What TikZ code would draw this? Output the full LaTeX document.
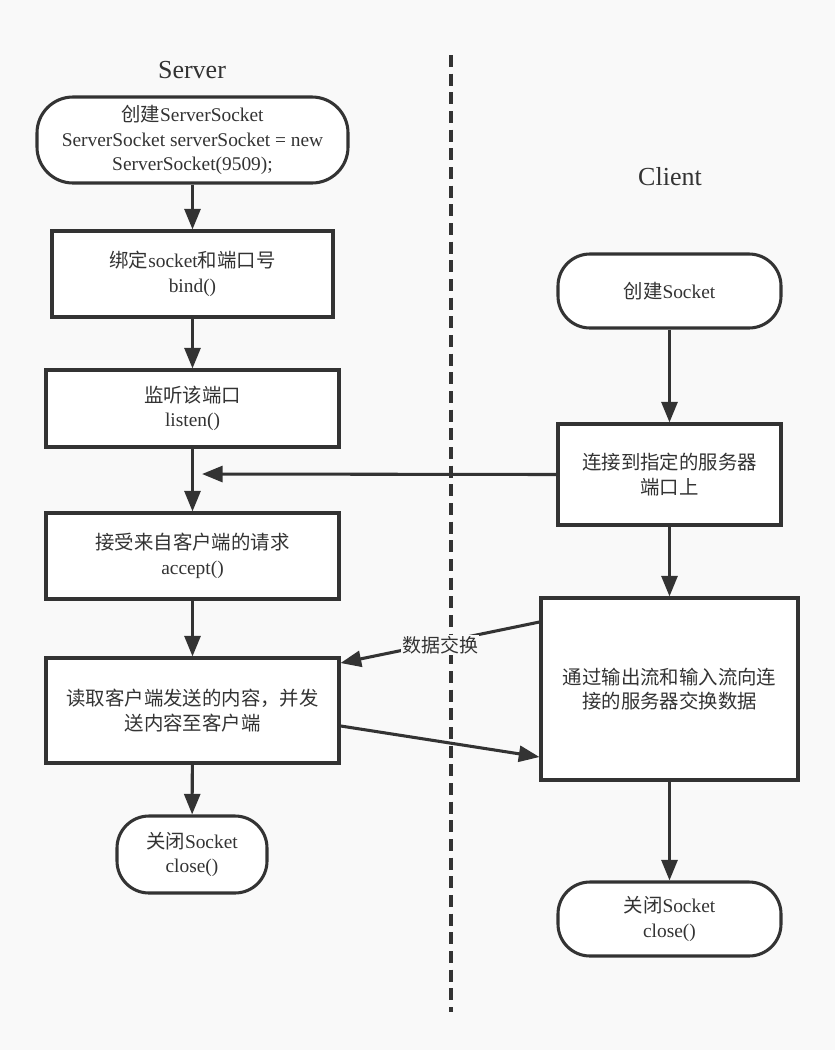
\documentclass[tikz,border=0pt]{standalone}
\usepackage{fontspec}
\setmainfont{Liberation Serif}
\newfontfamily\cjk{Noto Sans CJK SC}
\usetikzlibrary{arrows.meta,calc}
\definecolor{ink}{HTML}{333333}
\definecolor{bg}{HTML}{F9F9F9}
\tikzset{
  box/.style={draw=ink, line width=2.3pt, fill=white, text=ink, align=center, inner sep=0pt,
    font=\fontsize{14.55pt}{18.4pt}\selectfont},
  pill/.style={box, rounded corners=24pt},
  conn/.style={draw=ink, line width=2.3pt, -{Triangle[length=15.5pt,width=12pt]}},
  title/.style={text=ink, font=\fontsize{19.5pt}{23pt}\selectfont},
}
\begin{document}
\begin{tikzpicture}[x=0.75pt,y=-0.75pt]
\fill[bg] (0,0) rectangle (835,1050);
\useasboundingbox (0,0) rectangle (835,1050);
\draw[ink, line width=2.4pt, dash pattern=on 9pt off 5pt] (451,55) -- (451,1012);
\node[title] (ts) at (192,70) {Server};
\node[title] (tc) at (670,177) {Client};
% server
\node[pill, minimum width=233.25pt, minimum height=64.5pt, rounded corners=27pt] (A) at (192.5,140)
  {{\cjk 创建}ServerSocket\\ServerSocket serverSocket = new\\ServerSocket(9509);};
\node[box, minimum width=210.75pt, minimum height=64.5pt] (B) at (192.5,274)
  {{\cjk 绑定}socket{\cjk 和端口号}\\bind()};
\node[box, minimum width=219.75pt, minimum height=57.75pt] (C) at (192.5,408.5)
  {{\cjk 监听该端口}\\listen()};
\node[box, minimum width=219.75pt, minimum height=64.5pt] (D) at (192.5,556)
  {{\cjk 接受来自客户端的请求}\\accept()};
\node[box, minimum width=219.75pt, minimum height=78.75pt] (E) at (192.5,710.5)
  {\cjk 读取客户端发送的内容，并发\\\cjk 送内容至客户端};
\node[pill, minimum width=112.5pt, minimum height=57.75pt] (F) at (192,854.5)
  {{\cjk 关闭}Socket\\close()};
% client
\node[pill, minimum width=167.25pt, minimum height=55.5pt] (G) at (669.5,291)
  {{\cjk 创建}Socket};
\node[box, minimum width=167.25pt, minimum height=75.75pt] (H) at (669.5,474.5)
  {\cjk 连接到指定的服务器\\\cjk 端口上};
\node[box, minimum width=192.75pt, minimum height=136.5pt] (I) at (669.5,689)
  {\cjk 通过输出流和输入流向连\\\cjk 接的服务器交换数据};
\node[pill, minimum width=167.25pt, minimum height=55.5pt] (J) at (669.5,919)
  {{\cjk 关闭}Socket\\close()};
\coordinate (m) at (202,474);
% connectors
\draw[conn] (A) -- (B);
\draw[conn] (B) -- (C);
\draw[conn] (C) -- (D);
\draw[conn] (D) -- (E);
\draw[conn] (E) -- (F);
\draw[conn] (G) -- (H);
\draw[conn] (H) -- (I);
\draw[conn] (I) -- (J);
\draw[conn] (H.west) -- (m);
\draw[conn] ([yshift=50.25pt]I.west) -- node[pos=0.5, fill=bg, text=ink, inner sep=1pt, yshift=-2pt,
  font=\cjk\fontsize{14.25pt}{17pt}\selectfont] (lbl) {数据交换} ([yshift=35.6pt]E.east);
\draw[conn] ([yshift=-11.6pt]E.east) -- ([yshift=-51pt]I.west);
\end{tikzpicture}
\end{document}
